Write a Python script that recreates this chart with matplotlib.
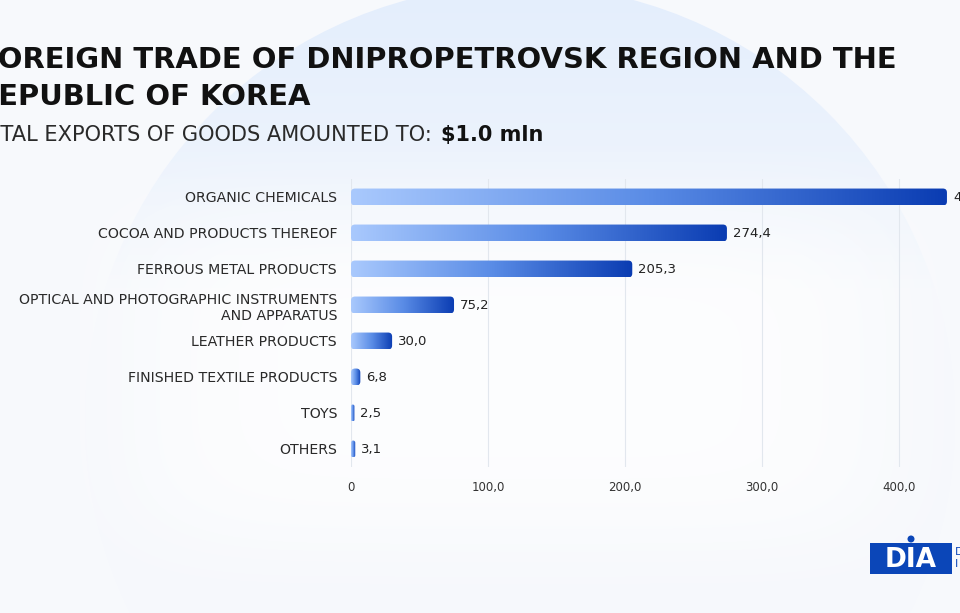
import numpy as np
import matplotlib.pyplot as plt
from matplotlib.patches import FancyBboxPatch, Circle, Rectangle
from matplotlib.colors import LinearSegmentedColormap

# data (thousand USD)
categories = ['ORGANIC CHEMICALS', 'COCOA AND PRODUCTS THEREOF', 'FERROUS METAL PRODUCTS',
              'OPTICAL AND PHOTOGRAPHIC INSTRUMENTS\nAND APPARATUS', 'LEATHER PRODUCTS',
              'FINISHED TEXTILE PRODUCTS', 'TOYS', 'OTHERS']
values = [435.0, 274.4, 205.3, 75.2, 30.0, 6.8, 2.5, 3.1]
xticks = [0, 100, 200, 300, 400]
xtick_labels = ['0', '100,0', '200,0', '300,0', '400,0']

title_1 = 'FOREIGN TRADE OF DNIPROPETROVSK REGION AND THE'
title_2 = 'REPUBLIC OF KOREA'
subtitle = 'TOTAL EXPORTS OF GOODS AMOUNTED TO:'
total = '$1.0 mln'

plt.rcParams['font.family'] = ['DejaVu Sans']
W, H = 960, 613
fig = plt.figure(figsize=(W / 100, H / 100), dpi=100)
base = np.array([0.968, 0.976, 0.99])
fig.patch.set_facecolor(base)
renderer = fig.canvas.get_renderer()

# background in pixel coordinates
bg = fig.add_axes([0, 0, 1, 1])
bg.set_xlim(0, W)
bg.set_ylim(H, 0)
bg.axis('off')
fade = np.clip(np.linspace(0, 1, 256) / 0.5, 0, 1) ** 1.3
top_c = np.array([0.895, 0.935, 0.99])
grad = top_c + (base - top_c) * fade[:, None, None] * np.ones((1, 2, 1))
im = bg.imshow(grad, extent=[0, W, H, -15], aspect='auto', zorder=0, interpolation='bilinear')
circ = Circle((520, 420), 435, transform=bg.transData, facecolor='none', edgecolor='none')
bg.add_patch(circ)
im.set_clip_path(circ)
# soft white glow behind the chart
gy, gx = np.mgrid[-1:1:256j, -1:1:256j]
glow = np.ones((256, 256, 4))
glow[..., 3] = 0.75 * np.exp(-((gx / 0.8) ** 6 + (gy / 0.75) ** 4))
bg.imshow(glow, extent=[20, 1000, 613, 140], aspect='auto', zorder=0.5, interpolation='bilinear')
bg.set_xlim(0, W)
bg.set_ylim(H, 0)


def place(x, y, full, visible, width, **kw):
    # size the text so that its visible part spans the same width as in the reference
    t = bg.text(x, y, full, ha='right', va='baseline', fontsize=20, **kw)
    probe = bg.text(0, 0, visible, fontsize=20, **kw)
    w = probe.get_window_extent(renderer).width
    probe.remove()
    t.set_fontsize(20 * width / w)
    return t


# titles (cut off at the left edge like the reference)
place(897, 68, title_1, 'OREIGN TRADE OF DNIPROPETROVSK REGION AND THE', 897,
      fontweight='bold', color='#111111')
place(311, 105, title_2, 'EPUBLIC OF KOREA', 311, fontweight='bold', color='#111111')
place(432, 141, subtitle, 'TAL EXPORTS OF GOODS AMOUNTED TO:', 432, fontweight='normal', color='#2a2a2a')
bg.text(441, 141, total, ha='left', va='baseline', fontsize=15, fontweight='bold', color='#111111')

# logo
bg.add_patch(Rectangle((870, 543), 82, 31, facecolor='#0b46b8', edgecolor='none'))
bg.text(911, 560, 'DIA', ha='center', va='center', fontsize=19, fontweight='bold', color='white')
bg.add_patch(Circle((911, 539), 3.5, facecolor='#0b46b8', edgecolor='none'))
bg.text(955, 558, 'D\nI', ha='left', va='center', fontsize=8, color='#0b46b8', linespacing=1.2)

# bar chart
px_per_unit = 137 / 100
ax = fig.add_axes([351 / W, (H - 467) / H, (W - 351) / W, 288 / H])
ax.patch.set_alpha(0)
y = np.arange(len(categories))
bars = ax.barh(y, values, height=0.47, color='none', edgecolor='none')

cmap = LinearSegmentedColormap.from_list('bar', ['#a9c9fd', '#5a8ce6', '#0a3cb2'])
ramp = np.linspace(0, 1, 256)[None, :]
r_px = 4
aspect = (r_px / 36) / (r_px / px_per_unit)
for bar, v in zip(bars, values):
    x0, y0, w, h = bar.get_x(), bar.get_y(), bar.get_width(), bar.get_height()
    r = min(r_px / px_per_unit, w / 2)
    patch = FancyBboxPatch((x0, y0), w, h, boxstyle=f'round,pad=0,rounding_size={r}',
                           mutation_aspect=aspect, facecolor='none', edgecolor='none')
    ax.add_patch(patch)
    img = ax.imshow(ramp, extent=[x0, x0 + w, y0 + h, y0], cmap=cmap, aspect='auto', zorder=3)
    img.set_clip_path(patch)
    ax.text(v + 6 / px_per_unit, bar.get_y() + h / 2, f'{v:.1f}'.replace('.', ','),
            va='center', ha='left', fontsize=9.5, color='#222222', clip_on=False)

ax.set_xlim(0, (W - 351) / px_per_unit)
ax.set_ylim(len(categories) - 0.5, -0.5)
ax.set_xticks(xticks)
ax.set_xticklabels(xtick_labels)
ax.set_yticks(y)
ax.set_yticklabels(categories, linespacing=1.25)
ax.tick_params(axis='y', length=0, pad=10, labelsize=10.2, labelcolor='#2a2a2a')
ax.tick_params(axis='x', length=0, pad=10, labelsize=8.5, labelcolor='#333333')
ax.grid(axis='x', color='#e2e7ee', linewidth=0.8)
ax.set_axisbelow(True)
for s in ax.spines.values():
    s.set_visible(False)

fig.savefig('out.png', dpi=100, facecolor=fig.get_facecolor())
